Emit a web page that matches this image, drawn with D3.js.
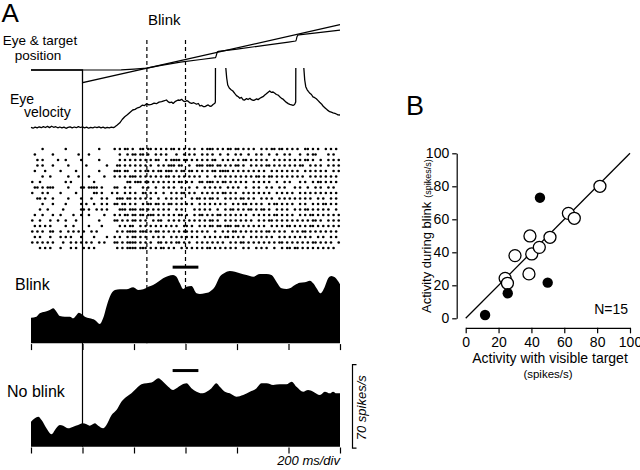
<!DOCTYPE html>
<html><head><meta charset="utf-8">
<script src="https://cdn.jsdelivr.net/npm/d3@7"></script>
<style>
body{margin:0;background:#fff}
svg{display:block}
text{font-family:"Liberation Sans",Arial,Helvetica,sans-serif;fill:#000}
</style>
</head><body>
<svg id="c" width="640" height="470"></svg>
<script>
// ---------------- DATA ----------------
const timeTicks = [-200, 0, 200, 400, 600, 800, 1000];      // ms, 200 ms/div
const blinkMarks = [250, 400];                               // blink onset / offset (ms)
const analysisWindow = [350, 450];                           // horizontal bar (ms)
const windowLevel = 65;                                      // spikes/s height of bar
const scaleBarRate = 70;                                     // spikes/s

// target and eye position (deg)
const targetPos = [[-200,0],[0,0],[0,-3.5],[1000,12.5]];
const eyePos = [[-200,0],[0,0],[100,0],[150,0.05],[200,0.25],[250,0.5],[300,1.2],[380,2.2],
  [460,2.9],[516,3.4],[518,3.6],[521,4.4],[524,5.0],[528,5.15],[600,5.75],[700,6.75],[800,7.7],
  [828,8.0],[830,8.3],[833,9.2],[836,9.6],[840,9.7],[900,10.2],[1000,11.0]];

// eye velocity (deg/s, saccades clipped)
const eyeVelocity = [
[-200,0.6],[-192,-0.2],[-184,0.9],[-176,0.1],[-168,1.2],[-160,0.3],[-152,1.4],[-144,0.5],[-136,1.6],[-128,0.4],[-120,1.8],[-112,0.7],[-104,1.3],[-96,0.2],[-88,1.0],[-80,0.1],[-72,0.9],[-64,-0.3],[-56,0.7],[-48,1.2],[-40,0.2],[-32,1.0],[-24,0.3],[-16,1.4],[-8,0.5],[0,1.1],[8,0.2],[16,0.9],[24,-0.2],[32,0.6],[40,0.1],[48,1.0],[56,0.3],[64,1.2],[72,0.2],[80,0.8],[88,-0.1],[96,0.7],[104,0.2],[112,0.9],[120,0.4],[126,1.2],
[135,3.0],[145,5.2],[154,8.5],[164,11.3],[174,13.2],[184,15.6],[195,18.0],[204,18.6],[214,20.2],[223,20.9],[232,22.8],[241,22.4],[249,24.2],[258,23.1],[268,23.6],[278,24.8],[287,24.3],[297,25.9],[307,26.4],[316,27.2],[326,28.0],[333,26.1],[339,25.3],[346,25.9],[352,24.6],[361,26.7],[371,28.0],[378,27.6],[385,28.7],[392,26.9],[398,26.3],[405,27.4],[411,26.6],[418,25.1],[424,24.6],[432,25.3],[443,23.8],[450,24.5],[456,22.0],[463,22.6],[469,21.4],[475,21.3],[482,22.4],[488,23.1],[495,21.7],[501,22.0],[507,23.5],[514,24.7],[516,26],
[518,200],[555,200],[556.5,60],[560,50],[564,43],[570,40],[577,38.3],[584,37],[591,34.6],[598,32.4],[605,31.2],[611,29.7],[617,30.6],[624,28.2],[630,28.0],[637,29.4],[643,28.5],[650,29.7],[656,28.3],[663,27.6],[669,28.0],[676,29.1],[682,28.4],[689,29.7],[695,30.6],[701,31.3],[708,33.0],[714,34.2],[721,35.8],[727,37.0],[734,35.6],[740,36.0],[747,34.7],[753,33.5],[760,32.9],[766,31.3],[773,29.6],[779,28.8],[786,27.0],[792,25.6],[799,24.4],[805,23.7],[812,23.2],[818,22.7],[821,23.0],[825,24.2],[828,26.0],
[830,200],[858,200],[859.5,60],[863,48],[867,41.3],[872,38.4],[877,36.6],[883,34.7],[889,33.5],[895,31.1],[902,30.3],[908,29.2],[915,27.4],[921,25.7],[928,24.1],[934,22.0],[941,20.3],[947,18.9],[953,17.6],[960,16.3],[966,15.8],[973,15.1],[980,14.7],[986,14.0],[992,13.2],[1000,13.0]
];

// spike raster: one string per trial, one char per 10 ms bin from -200 ms ('o' = spike)
const rasterTrials = [
"....o........o............o.....o.o.oo.o..oo.oo.o.o.o.oo.o.o.o.o..o.ooo.o.o.oo.oo.o.o.o..o.o.oo.oo.o.o.o..oo.o.o..o.o.o.o.o.o.",
".o......o.........o...o...........o..o.oo.oo.o..o.o.o...o..o.o.o..o.o.o..o..o..o.o..o..o.o..o..o..o.o...o..o.oo....o.o..",
"..o.o.....o..o.....o......o.......o.o.o.o.o.o.o.oo..o.oooo.oo.o.o.o.o.oo..o.o.o.o.oo.o.o.o.o..o.o.o.o.o.o.oo.o..o..o.o.o.",
"..o.o...o.....o......o.......o...oo.o.o.o.o.o.o..o.o.ooo.oo..o..ooo.ooo.oo.o.o.oo.o..o.o.o.oo.o.o.o.o.o.oo..o.o.o..o.o.o",
".o...o.....o.....o........o.....ooo.oo..o.o.oo.o.oo.ooo.o.oo.oo.o.o.o.oo.oooo.o.o.o.o.o.o.o..o.o.o.o.o.o..o.o.o.o.o..o.o",
"....o..o......o...o...o.....o...o.o.o.ooo.o.o.o.o.o.oo.o.o.o.o.o.o..o..o.o.o.o.o.o.o.o.oo.o.oo.o.o.o.o.o.o..o.o.o.o.o.o.o",
"o..o.........o.o........o............oo.ooo.oo.o.o.o.o.o.oo.o.o..oo.ooo.o.oo.o.o.o.o..o.o.o.o..o..o.o...o.o..o.oo.o.o.o...",
".oo.o.ooo.....o....oo.oooo.o....oo..o.o....o.o..o..o.o.o..o..o..o..o.o.o.o..o.o.o..o..o.o..o.o..o.o...o.o..o..o.o..o.o..",
"o...o.o....o.....o......oo.o...o.o..o.o.o..oo.o.o..o..o.o.oo.o.o..o.o.o.o.oo.o.o..o.o.o.o.o.o..o.o.o.o..o.o.o.o.o.o.o.o.",
"..oo.o..o.....o....o...o...o.o...ooo.oo.o.o.o.o..o..o.o.o.o...o.oo.o.oo.o..o.o.o.oo.o.o..o.o.o..o.o.o.o.o.o.o..o.o..o.o.",
"....o...o....o.....o.o..o..o.o..oo.oo.o.o..o.oo.oo.o.oo.o.o.o.o..o.o.o.o.o.o..o.o.oo.o.o.o..o.oo.o.o.o..o.o..o.o.oo.o.o",
"...o..o.....o......oo.o..o.o.o....ooo.ooo.oo.o.o.o.o.o..o.o....o.o.o.o..o..o.oo.o.o.oo.o.oo.o..o.o.o..o.o.oo.o.o.o.o..o.",
".o..o...o..o....o..o..o.....o...o.o.oo.oo.oo.ooo.o.o.o.o.oo.o..o.oo.o.o.oo.o.o.o.o.o..o.o.o.o.oo.o.o.o..o.o.oo.o.o.o.o.o",
"o..o...o..o..o...o........o.....oo.o.o.oo.o.o..o.oo..o.o.o.o.o.o.o.o.oo.o..o.o.o.o.o.o..o.o.oo.o.o.o.o.o.o.o.oo.o..o.o.o",
".o.o.o.o.....o..o.....o....o......o.o.oo..o.o.o.o.o.o.o.o..oo.o..o.o.oo.oo.ooo.oo.o.o.o.o.o..o.o.o.oo.o.o.o.oo.o.o.o.o.o",
"o.o.o..oo..o..o.o.o.o..o.o.......o.o.oooo.ooo.o.oo.o.o.o.o.oo.o.o.o.o..o..o.o.oo.o.o.o.o.o.oo.o.o.o..o.o.oo.o.o.o.o.o.o.",
".o.o...o...o.o.o...o....o....o..o.o..o.oo.o.o..o.o.o..o.o.o.o.o.o..o.o.o.o.oo.o.o.o..o.o.o.o.o..o.o.o.o.o.o.o..o.o..o.o.",
"o.o.o.o.o...o..o.o.o.o.o..o.o...oo.o.oooo.o.o.o..oo.o.o.oo.o.o..o.o.o.o.o.o..o.o.oo.o.o.o.o.o.o.oo.o.o.o.o.o.oo.o.o.o..o",
"...o.o.o...o...o.o..o.o.o........o.o.oooo.ooo.o.o.oo.o.o..o.o.o.o.o.oo.o.o.o.o.o..o.o..o.o.o..o..o.oo.oo.o.o.o.o.o.o.o..."
];

// smoothed firing rate (spikes/s)
const rateBlink = [[-200,21.9],[-179,22.7],[-166,25.6],[-146,27],[-127,28.4],[-114,29.9],[-101,27],[-88,23.3],[-69,22.7],[-49,22.7],[-36,21.3],[-23,24.2],[-14,26.1],[-4,25],[9,22.7],[28,21.3],[48,19.9],[67,16.5],[80,21.3],[93,31.3],[106,39.8],[126,45.5],[145,46.1],[171,46.1],[197,47.8],[216,45.5],[236,46.1],[255,48.3],[274,49.8],[294,52.6],[313,55.5],[333,57.5],[352,58.3],[365,56.9],[378,51.2],[391,46.4],[404,48.3],[423,48.9],[443,42.7],[456,42.1],[475,42.7],[494,44.1],[514,48.3],[533,56.9],[553,60.3],[572,61.7],[592,61.1],[611,59.8],[637,58.3],[663,56.9],[689,59.2],[715,59.2],[734,58.3],[753,52.6],[773,47],[792,46.4],[805,47],[825,49.8],[844,51.7],[863,52.1],[883,53.4],[896,51.2],[909,47],[924,42.7],[941,48.3],[954,55.5],[967,57.5],[980,56.3],[1000,50.4]];
const rateNoBlink = [[-200,21.3],[-185,24.2],[-172,25.6],[-159,22.8],[-140,15.7],[-120,10.6],[-107,14.3],[-88,18.5],[-75,17.9],[-56,15.7],[-36,17.1],[-17,18.5],[0,20],[16,19.1],[28,17.9],[48,20],[61,17.9],[80,15.7],[93,18.5],[113,27.1],[132,31.3],[151,38.4],[171,42.7],[190,45.6],[210,49.9],[229,53.3],[249,54.1],[274,55.5],[294,58.4],[313,55.5],[333,51.2],[352,48.4],[365,49.9],[384,52.7],[404,54.1],[423,49.9],[443,47],[462,45.6],[482,47],[501,49.9],[520,54.1],[533,51.2],[553,47],[572,45.6],[598,42.7],[624,44.1],[650,47],[676,49.9],[695,54.1],[715,54.1],[740,52.7],[766,53.3],[792,53.3],[812,55.5],[831,51.2],[857,47],[876,48.4],[896,47],[922,44.1],[941,47],[961,45.6],[973,47],[986,45.6],[1000,45.6]];

// panel B: [activity with visible target, activity during blink] (spikes/s)
const openCells = [[24,24.2],[25.4,21.2],[30,38],[39.1,49.9],[38.5,26.9],[40.2,39],[44.8,43],[51.3,49.1],[62.5,63.6],[66.1,60.6],[81.7,80]];
const filledCells = [[45.2,73.1],[49.9,21.6],[25.6,15.2],[11.8,2.0]];
const bTicks = [0, 20, 40, 60, 80, 100];
const nLabel = "N=15";

// ---------------- DRAW ----------------
const svg = d3.select("#c");
const FONT = '"Liberation Sans",Arial,Helvetica,sans-serif';

const x = d3.scaleLinear().domain([-200, 1000]).range([31, 340]);
const posY = d3.scaleLinear().domain([-3.5, 12.5]).range([82.7, 24.7]);
const velY = d3.scaleLinear().domain([0, 60]).range([128, 68]);
const rowY = d3.scalePoint().domain(d3.range(rasterTrials.length)).range([149, 248]);
const rBlinkY = d3.scaleLinear().domain([0, scaleBarRate]).range([343.3, 261.3]);
const rNoY = d3.scaleLinear().domain([0, scaleBarRate]).range([446.7, 364.7]);

// reference lines (behind)
svg.append("line").attr("x1", x(0)).attr("x2", x(0))
  .attr("y1", posY(-3.5)).attr("y2", rNoY(0))
  .attr("stroke", "#000").attr("stroke-width", 1.2);
blinkMarks.forEach(t => {
  svg.append("line").attr("x1", x(t)).attr("x2", x(t))
    .attr("y1", 40).attr("y2", rBlinkY(0))
    .attr("stroke", "#000").attr("stroke-width", 1.2)
    .attr("stroke-dasharray", "4,3");
});

// position traces
const posLine = d3.line().x(d => x(d[0])).y(d => posY(d[1]));
svg.append("path").attr("d", posLine(targetPos)).attr("fill", "none")
  .attr("stroke", "#000").attr("stroke-width", 1.3);
svg.append("path").attr("d", posLine(eyePos)).attr("fill", "none")
  .attr("stroke", "#000").attr("stroke-width", 1.2).attr("stroke-linejoin", "round");

// velocity trace (clipped)
svg.append("clipPath").attr("id", "vclip").append("rect")
  .attr("x", 0).attr("y", velY(60)).attr("width", 640).attr("height", 80);
svg.append("path")
  .attr("d", d3.line().x(d => x(d[0])).y(d => velY(d[1]))(eyeVelocity))
  .attr("clip-path", "url(#vclip)")
  .attr("fill", "none").attr("stroke", "#000").attr("stroke-width", 1.3)
  .attr("stroke-linejoin", "round");

// raster
const gR = svg.append("g");
rasterTrials.forEach((row, i) => {
  const spikes = [];
  for (let k = 0; k < row.length; k++) if (row[k] === "o") spikes.push(-200 + k * 10 + 5);
  gR.selectAll(null).data(spikes.filter(t => t <= 1000)).enter().append("circle")
    .attr("cx", t => x(t)).attr("cy", rowY(i)).attr("r", 1.3).attr("fill", "#000");
});

// firing-rate fills
function rateArea(data, yS) {
  return d3.area().x(d => x(d[0])).y0(yS(0)).y1(d => yS(d[1])).curve(d3.curveMonotoneX)(data);
}
svg.append("path").attr("d", rateArea(rateBlink, rBlinkY)).attr("fill", "#000");
svg.append("path").attr("d", rateArea(rateNoBlink, rNoY)).attr("fill", "#000");

// window bars
[rBlinkY, rNoY].forEach(yS => {
  svg.append("line").attr("x1", x(analysisWindow[0])).attr("x2", x(analysisWindow[1]))
    .attr("y1", yS(windowLevel)).attr("y2", yS(windowLevel))
    .attr("stroke", "#000").attr("stroke-width", 3);
});

// time ticks
[rBlinkY, rNoY].forEach(yS => {
  const g = svg.append("g").attr("transform", `translate(0,${yS(0) + 0.8})`)
    .call(d3.axisBottom(x).tickValues(timeTicks).tickSize(6).tickSizeOuter(0).tickFormat(""));
  g.select(".domain").remove();
  g.selectAll("line").attr("stroke-width", 1.2);
});

// scale bar
const sbx = 352.5;
svg.append("path")
  .attr("d", `M${sbx + 4},${rNoY(scaleBarRate)}H${sbx}V${rNoY(0) + 1.5}H${sbx + 4}`)
  .attr("fill", "none").attr("stroke", "#000").attr("stroke-width", 1.2);
svg.append("text").attr("transform", `translate(365.5,${(rNoY(0) + rNoY(scaleBarRate)) / 2 + 2}) rotate(-90)`)
  .attr("text-anchor", "middle").attr("font-size", 13).attr("font-style", "italic")
  .text(scaleBarRate + " spikes/s");
svg.append("text").attr("x", 340).attr("y", 465).attr("text-anchor", "end")
  .attr("font-size", 13).attr("font-style", "italic").text("200 ms/div");

// panel A labels
svg.append("text").attr("x", 1.5).attr("y", 21.5).attr("font-size", 26).text("A");
svg.append("text").attr("x", 148).attr("y", 25).attr("font-size", 15).text("Blink");
svg.append("text").attr("x", 40).attr("y", 44.5).attr("text-anchor", "middle").attr("font-size", 13.5).text("Eye & target");
svg.append("text").attr("x", 38).attr("y", 59.5).attr("text-anchor", "middle").attr("font-size", 13.5).text("position");
svg.append("text").attr("x", 10).attr("y", 104).attr("font-size", 14).text("Eye");
svg.append("text").attr("x", 24).attr("y", 117).attr("font-size", 14).text("velocity");
svg.append("text").attr("x", 15).attr("y", 290).attr("font-size", 16).text("Blink");
svg.append("text").attr("x", 7).attr("y", 397).attr("font-size", 16).text("No blink");

// ---------------- PANEL B ----------------
svg.append("text").attr("x", 406).attr("y", 115).attr("font-size", 27).text("B");
const bx = d3.scaleLinear().domain([0, 100]).range([465.7, 630]);
const by = d3.scaleLinear().domain([0, 100]).range([318.3, 153.3]);

const gy = svg.append("g").attr("transform", "translate(456.7,0)")
  .call(d3.axisLeft(by).tickValues(bTicks).tickSize(4.5).tickSizeOuter(0).tickPadding(3));
const gx = svg.append("g").attr("transform", "translate(0,327.8)")
  .call(d3.axisBottom(bx).tickValues(bTicks).tickSize(5.5).tickSizeOuter(0).tickPadding(4));
[gy, gx].forEach(g => {
  g.attr("font-family", FONT).attr("font-size", 14);
  g.selectAll("path,line").attr("stroke", "#000").attr("stroke-width", 1.2);
  g.selectAll("text").attr("fill", "#000");
});

svg.append("line").attr("x1", bx(0)).attr("y1", by(0)).attr("x2", bx(100)).attr("y2", by(100))
  .attr("stroke", "#000").attr("stroke-width", 1.3);

svg.selectAll(null).data(openCells).enter().append("circle")
  .attr("cx", d => bx(d[0])).attr("cy", d => by(d[1])).attr("r", 6)
  .attr("fill", "#fff").attr("stroke", "#000").attr("stroke-width", 1.3);
svg.selectAll(null).data(filledCells).enter().append("circle")
  .attr("cx", d => bx(d[0])).attr("cy", d => by(d[1])).attr("r", 5.2)
  .attr("fill", "#000");

svg.append("text").attr("x", 628).attr("y", 313.5).attr("text-anchor", "end")
  .attr("font-size", 14).text(nLabel);

svg.append("text").attr("x", 550).attr("y", 363).attr("text-anchor", "middle")
  .attr("font-size", 14).text("Activity with visible target");
svg.append("text").attr("x", 548).attr("y", 377.5).attr("text-anchor", "middle")
  .attr("font-size", 11.5).text("(spikes/s)");

const yl = svg.append("text").attr("transform", "translate(430.5,313) rotate(-90)")
  .attr("font-size", 13);
yl.append("tspan").text("Activity during blink");
yl.append("tspan").attr("dx", 4).attr("font-size", 9).text("(spikes/s)");
</script>
</body></html>
